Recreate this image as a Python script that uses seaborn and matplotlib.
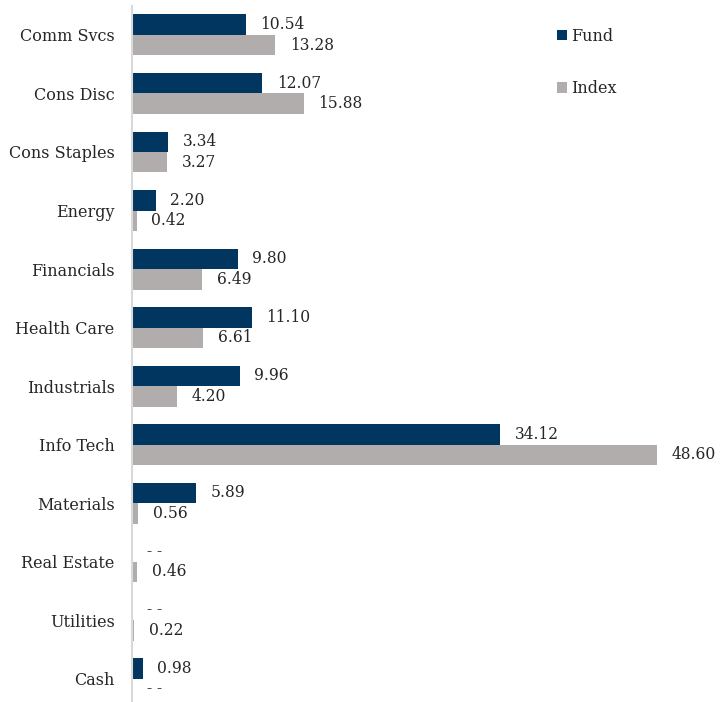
import numpy as np
import pandas as pd
import matplotlib
matplotlib.use("Agg")
import matplotlib.pyplot as plt
from matplotlib.patches import Patch
import seaborn as sns

categories = ["Comm Svcs", "Cons Disc", "Cons Staples", "Energy", "Financials",
              "Health Care", "Industrials", "Info Tech", "Materials",
              "Real Estate", "Utilities", "Cash"]
fund = [10.54, 12.07, 3.34, 2.20, 9.80, 11.10, 9.96, 34.12, 5.89, np.nan, np.nan, 0.98]
index = [13.28, 15.88, 3.27, 0.42, 6.49, 6.61, 4.20, 48.60, 0.56, 0.46, 0.22, np.nan]
series = ["Fund", "Index"]
colors = ["#00365F", "#B1ADAC"]

sns.set_theme(style="white")
plt.rcParams["font.family"] = ["DejaVu Serif"]
plt.rcParams["text.color"] = "#262626"

df = pd.DataFrame({
    "Sector": categories * 2,
    "Series": [series[0]] * len(categories) + [series[1]] * len(categories),
    "Value": fund + index,
})
df["Plot"] = df["Value"].fillna(0.0)

fig = plt.figure(figsize=(7.21, 7.02), dpi=100)
ax = fig.add_axes([132 / 721, -0.0085, 1 - 132 / 721, 1.0004])

sns.barplot(data=df, y="Sector", x="Plot", hue="Series", order=categories,
            hue_order=series, palette=colors, saturation=1, orient="h", width=0.7,
            linewidth=0, errorbar=None, ax=ax, legend=False)

vals = [fund, index]
for cont, v in zip(ax.containers, vals):
    labels = ["- -" if np.isnan(x) else f"{x:.2f}" for x in v]
    ax.bar_label(cont, labels=labels, padding=10.5, fontsize=11.2, color="#262626")

ax.set_xlim(0, (721 - 132) / 10.8)
ax.set_ylim(len(categories) - 0.5, -0.5)
ax.set_xlabel("")
ax.set_ylabel("")
ax.set_xticks([])
ax.tick_params(axis="y", length=0, pad=12.5, labelsize=11.5, labelcolor="#262626")
for s in ["top", "right", "bottom"]:
    ax.spines[s].set_visible(False)
ax.spines["left"].set_color("#D9D9D9")
ax.spines["left"].set_linewidth(1.5)

handles = [Patch(facecolor=c, edgecolor="none", label=s) for s, c in zip(series, colors)]
fig.legend(handles=handles, loc="upper left", bbox_to_anchor=(557 / 721, 1 - 28 / 702),
           frameon=False, fontsize=11.5, handlelength=0.6, handleheight=0.6,
           handletextpad=0.3, labelspacing=2.2, borderpad=0, borderaxespad=0)

fig.savefig("out.png", dpi=100)
